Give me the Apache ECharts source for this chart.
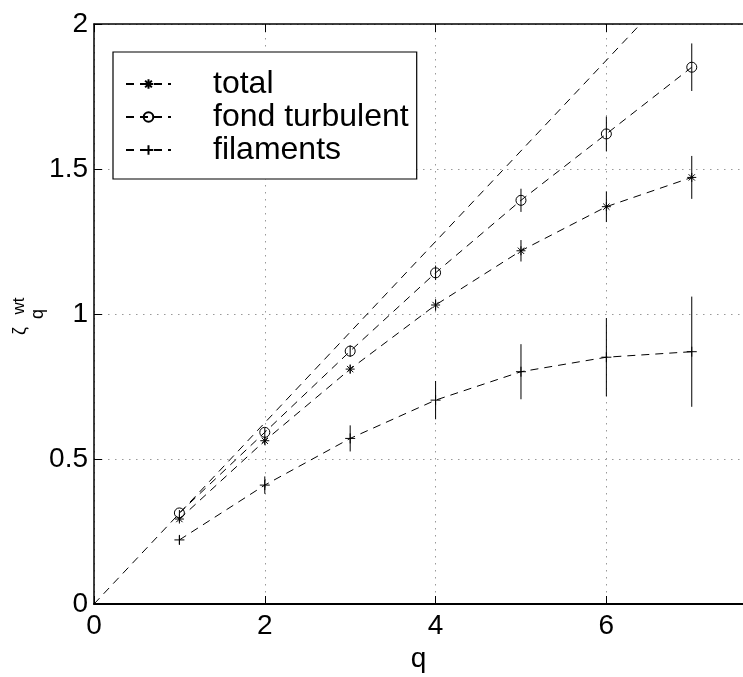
<!DOCTYPE html>
<html>
<head>
<meta charset="utf-8">
<script src="https://cdn.jsdelivr.net/npm/echarts@6/dist/echarts.min.js"></script>
<style>
html,body{margin:0;padding:0;background:#fff;}
#c{width:743px;height:677px;}
</style>
</head>
<body>
<div id="c"></div>
<script>
// ---- data ----
var qValues = [1, 2, 3, 4, 5, 6, 7];
var totalVals = [0.293, 0.563, 0.81, 1.031, 1.218, 1.37, 1.471];
var totalErr  = [0.01, 0.012, 0.015, 0.02, 0.037, 0.053, 0.074];
var fondVals  = [0.314, 0.592, 0.872, 1.142, 1.392, 1.621, 1.851];
var fondErr   = [0.01, 0.015, 0.02, 0.025, 0.04, 0.06, 0.082];
var filVals   = [0.221, 0.41, 0.571, 0.703, 0.801, 0.851, 0.87];
var filErr    = [0.015, 0.03, 0.045, 0.066, 0.095, 0.135, 0.19];
var refQ      = [0, 6.4];
var refVals   = [0, 2];
var seriesNames = ['total', 'fond turbulent', 'filaments'];
var xTicks = [0, 2, 4, 6];
var yTicks = [0, 0.5, 1, 1.5, 2];

var FONT = '"Liberation Sans", Arial, Helvetica, sans-serif';
var starPath = 'path://M0,-1L0,1M-1,0L1,0M-0.7,-0.7L0.7,0.7M-0.7,0.7L0.7,-0.7';
var plusPath = 'path://M0,-1L0,1M-1,0L1,0';

function pairs(xs, ys) { return xs.map(function (x, i) { return [x, ys[i]]; }); }
function triples(xs, ys, es) { return xs.map(function (x, i) { return [x, ys[i], es[i]]; }); }

function errSeries(vals, errs) {
  return {
    type: 'custom',
    silent: true,
    z: 3,
    data: triples(qValues, vals, errs),
    encode: { x: 0, y: 1 },
    renderItem: function (params, api) {
      var x = api.value(0), y = api.value(1), e = api.value(2);
      var p1 = api.coord([x, y - e]);
      var p2 = api.coord([x, y + e]);
      return {
        type: 'line',
        shape: { x1: p1[0], y1: p1[1], x2: p2[0], y2: p2[1] },
        style: { stroke: '#000', lineWidth: 1 }
      };
    }
  };
}

function lineSeries(name, vals, symbol, size) {
  return {
    name: name,
    type: 'line',
    data: pairs(qValues, vals),
    symbol: symbol,
    symbolSize: size,
    showAllSymbol: true,
    lineStyle: { color: '#000', width: 1, type: [8, 6] },
    itemStyle: { color: 'none', borderColor: '#000', borderWidth: 1 },
    emphasis: { disabled: true },
    z: 4
  };
}

var chart = echarts.init(document.getElementById('c'), null, { renderer: 'canvas' });
chart.setOption({
  animation: false,
  backgroundColor: '#fff',
  grid: { left: 94, top: 24, right: 0, bottom: 73, containLabel: false, outerBoundsMode: 'none' },
  legend: {
    data: seriesNames,
    orient: 'vertical',
    left: 113,
    top: 52,
    padding: [16, 8, 13, 12],
    itemGap: 1,
    itemWidth: 45,
    itemHeight: 12,
    backgroundColor: '#fff',
    borderColor: '#000',
    borderWidth: 1.2,
    borderRadius: 0,
    selectedMode: false,
    textStyle: { fontFamily: FONT, fontSize: 32, color: '#000', lineHeight: 32, padding: [0, 0, 0, 37] }
  },
  xAxis: [{
    type: 'value',
    min: 0, max: 7.6, interval: 2,
    name: 'q',
    nameLocation: 'middle',
    nameGap: 34,
    nameTextStyle: { fontFamily: FONT, fontSize: 28, color: '#000' },
    axisLine: { show: true, onZero: false, lineStyle: { color: '#000', width: 2 } },
    axisTick: { show: true, inside: true, length: 8, lineStyle: { color: '#000', width: 1 } },
    axisLabel: { fontFamily: FONT, fontSize: 28, color: '#000', margin: 8, showMaxLabel: false,
      formatter: function (v) { return xTicks.indexOf(v) >= 0 ? String(v) : ''; } },
    splitLine: { show: true, lineStyle: { color: '#999', width: 1, type: [1.5, 5.5] } }
  }, {
    type: 'value',
    position: 'top',
    min: 0, max: 7.6, interval: 2,
    axisLine: { show: true, onZero: false, lineStyle: { color: '#000', width: 1.5 } },
    axisTick: { show: true, inside: true, length: 8, lineStyle: { color: '#000', width: 1 } },
    axisLabel: { show: false },
    splitLine: { show: false }
  }],
  yAxis: {
    type: 'value',
    min: 0, max: 2, interval: 0.5,
    axisLine: { show: true, onZero: false, lineStyle: { color: '#000', width: 1.5 } },
    axisTick: { show: true, inside: true, length: 8, lineStyle: { color: '#000', width: 1 } },
    axisLabel: { fontFamily: FONT, fontSize: 28, color: '#000', margin: 6,
      formatter: function (v) { return yTicks.indexOf(v) >= 0 ? String(v) : ''; } },
    splitLine: { show: true, lineStyle: { color: '#999', width: 1, type: [1.5, 5.5] } }
  },
  graphic: [{
    type: 'group',
    x: 28,
    y: 315,
    rotation: Math.PI / 2,
    silent: true,
    children: [
      { type: 'text', x: -16, y: -8,
        style: { text: 'ζ', font: '18px ' + FONT, fill: '#000', align: 'center', verticalAlign: 'middle' } },
      { type: 'text', x: 9, y: -9,
        style: { text: 'wt', font: '17px ' + FONT, fill: '#000', align: 'center', verticalAlign: 'middle' } },
      { type: 'text', x: 1, y: 10,
        style: { text: 'q', font: '18px ' + FONT, fill: '#000', align: 'center', verticalAlign: 'middle' } }
    ]
  }],
  series: [
    {
      type: 'line',
      data: pairs(refQ, refVals),
      symbol: 'none',
      lineStyle: { color: '#000', width: 1, type: [8, 6] },
      silent: true,
      z: 2
    },
    errSeries(totalVals, totalErr),
    errSeries(fondVals, fondErr),
    errSeries(filVals, filErr),
    lineSeries(seriesNames[0], totalVals, starPath, 9),
    lineSeries(seriesNames[1], fondVals, 'circle', 10),
    lineSeries(seriesNames[2], filVals, plusPath, 10)
  ]
});
</script>
</body>
</html>
